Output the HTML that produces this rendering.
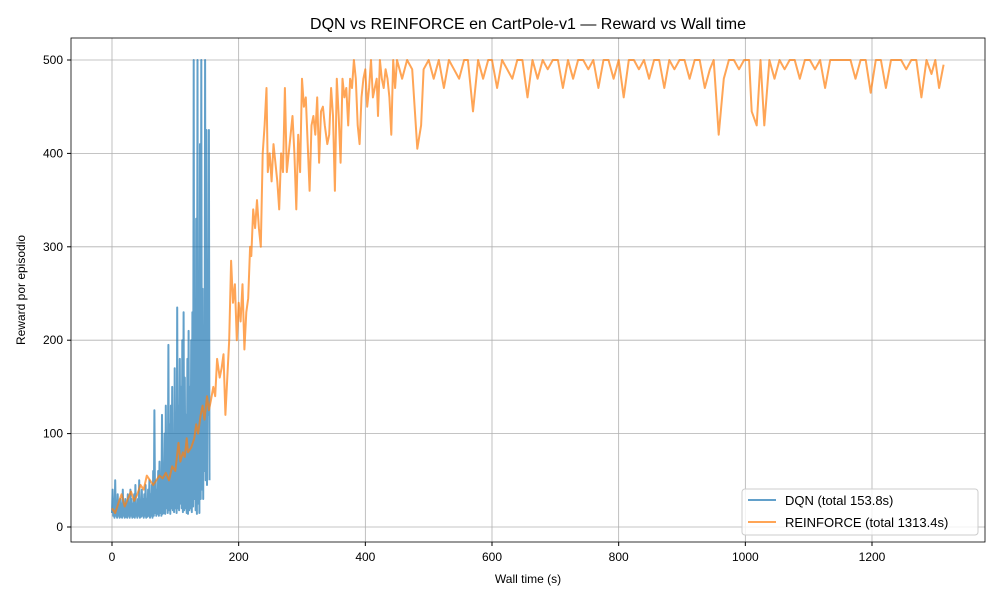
<!DOCTYPE html>
<html><head><meta charset="utf-8"><style>
body{margin:0;background:#fff}
svg{font-family:"Liberation Sans","DejaVu Sans",sans-serif}
</style></head><body>
<svg id="chart" width="1000" height="600" viewBox="0 0 1000 600">
<rect width="1000" height="600" fill="#fff"/>
<g id="grid"></g>
<g id="series"></g>
<rect x="71" y="38" width="914" height="504" fill="none" stroke="#000" stroke-width="0.8"/>
<g id="axes"></g>
<text x="528" y="29" text-anchor="middle" font-size="16">DQN vs REINFORCE en CartPole-v1 — Reward vs Wall time</text>
<text x="528" y="583" text-anchor="middle" font-size="12">Wall time (s)</text>
<text x="25" y="290" text-anchor="middle" font-size="12" transform="rotate(-90 25 290)">Reward por episodio</text>
<g>
<rect x="742" y="489" width="236" height="46" rx="3" fill="#fff" fill-opacity="0.8" stroke="#ccc"/>
<g><line x1="748" y1="500" x2="776" y2="500" stroke="#1f77b4" stroke-opacity="0.7" stroke-width="2"/><text x="785" y="505" font-size="13">DQN (total 153.8s)</text></g>
<g><line x1="748" y1="522" x2="776" y2="522" stroke="#ff7f0e" stroke-opacity="0.7" stroke-width="2"/><text x="785" y="527" font-size="13">REINFORCE (total 1313.4s)</text></g>
</g>
</svg>
<script>
const xTicks=[0,200,400,600,800,1000,1200];
const yTicks=[0,100,200,300,400,500];
const dqnR=[15,40,12,30,10,50,12,25,10,35,12,20,10,30,11,25,10,40,12,22,10,
30,11,25,10,35,12,20,10,40,12,30,10,25,11,35,10,45,12,20,10,
30,12,50,10,25,11,40,12,30,10,35,12,45,10,30,11,40,12,50,10,
35,12,45,10,60,12,125,15,50,12,40,14,60,12,70,15,50,12,120,14,
60,15,100,14,130,20,70,15,195,18,110,14,130,20,150,18,100,16,170,20,
90,15,235,20,130,18,180,25,150,20,200,16,230,18,160,20,120,15,180,14,
210,18,150,20,200,16,230,22,500,30,170,18,330,14,500,25,200,15,410,30,
500,40,255,30,190,60,500,50,425,45,200,120,425,50];
const dqnT=[0,1,2,3,4,5,6,7,8,9,10,11,12,13,14,15,16,17,18,19,20,21,22,23,24,25,26,27,28,29,30,31,32,33,34,35,36,37,38,39,40,41,42,43,44,45,46,47,48,49,50,51,52,53,54,55,56,57,58,59,60,61,62,63,64,65,66,67,68,69,70,71,72,73,74,75,76,77,78,79,80,81,82,83,84,85,86,87,88,89,90,91,92,93,94,95,96,97,98,99,100,101,102,103,104,105,106,107,108,109,110,111,112,113,114,115,116,117,118,119,120,121,122,123,124,125,126,127,128,129,130,131,132,133,134,135,136,137,138,139,140,141,142,143,144,145,146,147,148,149,150,151,152,153,154];
const rfT=[0,5,10,15,20,25,30,35,40,45,50,55,60,65,70,75,80,85,90,95,100,105,108,112,115,118,120,125,130,133,136,140,143,146,150,153,156,160,163,166,170,173,176,179,182,185,188,191,194,197,200,203,206,209,212,215,218,220,223,226,229,232,235,238,241,244,246,249,252,255,258,261,264,267,270,273,276,279,282,285,288,291,294,297,300,303,306,309,312,315,318,321,324,327,330,333,336,340,343,346,349,352,355,358,361,364,367,370,373,376,379,382,385,388,391,394,397,400,403,406,409,412,415,418,420,423,426,429,432,435,438,441,444,447,450,458,466,474,482,488,492,500,508,516,524,532,540,548,556,562,570,578,586,594,600,608,616,624,632,640,648,656,664,672,680,688,696,704,712,720,728,736,744,752,760,768,776,784,792,800,808,816,824,832,840,848,856,864,872,880,888,896,904,912,920,928,936,944,950,958,966,974,982,990,998,1002,1006,1010,1018,1024,1030,1038,1046,1054,1062,1070,1078,1086,1094,1102,1110,1118,1126,1134,1142,1150,1158,1166,1174,1182,1190,1198,1206,1214,1222,1230,1238,1246,1254,1262,1270,1278,1286,1294,1300,1306,1313];
const rfR=[20,15,25,35,22,30,38,28,35,45,40,55,50,45,50,55,52,58,50,65,60,90,70,80,75,95,80,85,95,110,100,120,130,115,140,125,135,150,140,180,160,170,185,120,160,200,285,240,260,200,240,220,260,190,230,245,300,290,340,320,350,320,300,400,430,470,380,400,370,410,390,370,340,400,380,470,380,400,420,440,400,340,420,380,480,450,460,410,360,430,440,420,460,390,445,450,430,410,420,470,440,360,480,440,390,480,460,470,430,480,470,500,480,430,410,460,480,490,450,470,500,460,470,480,440,500,480,470,490,480,460,420,500,470,500,480,500,490,405,430,490,500,480,500,470,500,490,480,500,500,445,500,480,500,500,470,500,490,480,500,500,460,500,480,500,490,500,500,470,500,480,500,500,490,500,470,500,500,480,500,460,500,500,490,500,480,500,500,470,500,490,500,500,480,500,500,470,490,500,420,480,500,500,490,500,500,500,445,430,500,430,500,480,500,490,500,500,480,500,500,490,500,470,500,500,500,500,500,480,500,500,465,500,500,470,500,500,500,490,500,500,460,500,485,500,470,495,500,490,500,480,500];
const X=t=>112+t*(760/1200);
const Y=r=>527-r*(467/500);
const NS='http://www.w3.org/2000/svg';
const grid=document.getElementById('grid'),axes=document.getElementById('axes'),series=document.getElementById('series');
xTicks.forEach(v=>{const x=X(v);
const g=document.createElementNS(NS,'line');g.setAttribute('x1',x);g.setAttribute('x2',x);g.setAttribute('y1',38);g.setAttribute('y2',542);g.setAttribute('stroke','#b0b0b0');g.setAttribute('stroke-width','0.8');


grid.appendChild(g);
const tk=document.createElementNS(NS,'line');tk.setAttribute('x1',x);tk.setAttribute('x2',x);tk.setAttribute('y1',542);tk.setAttribute('y2',546);tk.setAttribute('stroke','#000');axes.appendChild(tk);
const t=document.createElementNS(NS,'text');t.setAttribute('x',x);t.setAttribute('y',561);t.setAttribute('text-anchor','middle');t.setAttribute('font-size','12');t.textContent=v;


axes.appendChild(t);});
yTicks.forEach(v=>{const y=Y(v);
const g=document.createElementNS(NS,'line');g.setAttribute('x1',71);g.setAttribute('x2',985);g.setAttribute('y1',y);g.setAttribute('y2',y);g.setAttribute('stroke','#b0b0b0');g.setAttribute('stroke-width','0.8');


grid.appendChild(g);
const tk=document.createElementNS(NS,'line');tk.setAttribute('x1',67);tk.setAttribute('x2',71);tk.setAttribute('y1',y);tk.setAttribute('y2',y);tk.setAttribute('stroke','#000');axes.appendChild(tk);
const t=document.createElementNS(NS,'text');t.setAttribute('x',63);t.setAttribute('y',y+4);t.setAttribute('text-anchor','end');t.setAttribute('font-size','12');t.textContent=v;


axes.appendChild(t);});
function line(T,R,color,name){const p=document.createElementNS(NS,'polyline');
p.setAttribute('points',T.map((t,i)=>X(t).toFixed(1)+','+Y(R[i]).toFixed(1)).join(' '));
p.setAttribute('fill','none');p.setAttribute('stroke',color);p.setAttribute('stroke-opacity','0.7');p.setAttribute('stroke-width','2');p.setAttribute('stroke-linejoin','round');


series.appendChild(p);}
line(dqnT,dqnR,'#1f77b4','dqn-line');
line(rfT,rfR,'#ff7f0e','reinforce-line');
</script>
</body></html>
